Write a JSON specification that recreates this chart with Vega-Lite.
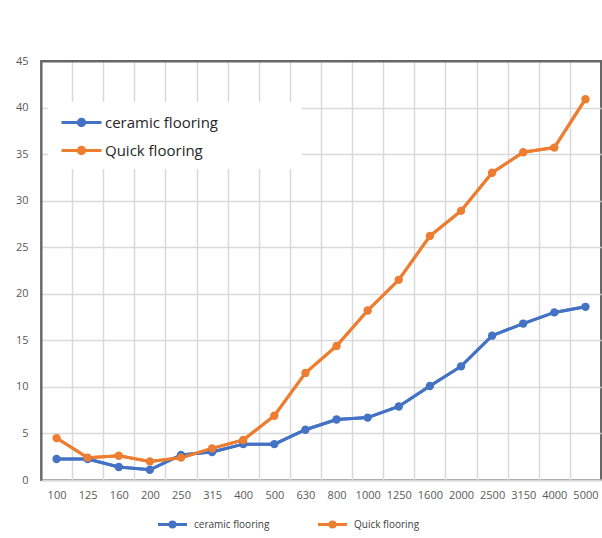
{
  "$schema": "https://vega.github.io/schema/vega-lite/v6.json",
  "width": 560,
  "height": 419,
  "autosize": "none",
  "padding": {"left": 41, "top": 61, "right": 1, "bottom": 58},
  "background": "white",
  "view": {"stroke": "#666666", "strokeWidth": 2},
  "config": {
    "font": "Open Sans"
  },
  "data": {
    "values": [
      {"freq": "100", "series": "ceramic flooring", "value": 2.25},
      {"freq": "125", "series": "ceramic flooring", "value": 2.25},
      {"freq": "160", "series": "ceramic flooring", "value": 1.4},
      {"freq": "200", "series": "ceramic flooring", "value": 1.1},
      {"freq": "250", "series": "ceramic flooring", "value": 2.7},
      {"freq": "315", "series": "ceramic flooring", "value": 3.0},
      {"freq": "400", "series": "ceramic flooring", "value": 3.85},
      {"freq": "500", "series": "ceramic flooring", "value": 3.85},
      {"freq": "630", "series": "ceramic flooring", "value": 5.4},
      {"freq": "800", "series": "ceramic flooring", "value": 6.5},
      {"freq": "1000", "series": "ceramic flooring", "value": 6.7},
      {"freq": "1250", "series": "ceramic flooring", "value": 7.9},
      {"freq": "1600", "series": "ceramic flooring", "value": 10.1},
      {"freq": "2000", "series": "ceramic flooring", "value": 12.2},
      {"freq": "2500", "series": "ceramic flooring", "value": 15.5},
      {"freq": "3150", "series": "ceramic flooring", "value": 16.8},
      {"freq": "4000", "series": "ceramic flooring", "value": 18.0},
      {"freq": "5000", "series": "ceramic flooring", "value": 18.6},
      {"freq": "100", "series": "Quick flooring", "value": 4.5},
      {"freq": "125", "series": "Quick flooring", "value": 2.4},
      {"freq": "160", "series": "Quick flooring", "value": 2.6},
      {"freq": "200", "series": "Quick flooring", "value": 2.0},
      {"freq": "250", "series": "Quick flooring", "value": 2.4},
      {"freq": "315", "series": "Quick flooring", "value": 3.4},
      {"freq": "400", "series": "Quick flooring", "value": 4.3},
      {"freq": "500", "series": "Quick flooring", "value": 6.9},
      {"freq": "630", "series": "Quick flooring", "value": 11.5},
      {"freq": "800", "series": "Quick flooring", "value": 14.4},
      {"freq": "1000", "series": "Quick flooring", "value": 18.2},
      {"freq": "1250", "series": "Quick flooring", "value": 21.5},
      {"freq": "1600", "series": "Quick flooring", "value": 26.2},
      {"freq": "2000", "series": "Quick flooring", "value": 28.9},
      {"freq": "2500", "series": "Quick flooring", "value": 33.0},
      {"freq": "3150", "series": "Quick flooring", "value": 35.2},
      {"freq": "4000", "series": "Quick flooring", "value": 35.7},
      {"freq": "5000", "series": "Quick flooring", "value": 40.9}
    ]
  },
  "encoding": {
    "x": {
      "field": "freq",
      "type": "ordinal",
      "sort": null,
      "bandPosition": 0.5,
      "scale": {"type": "band", "paddingInner": 0, "paddingOuter": 0},
      "axis": {
        "title": null,
        "tickBand": "extent",
        "ticks": false,
        "labelAngle": 0,
        "labelColor": "#595959",
        "labelFontSize": 11,
        "labelPadding": 9,
        "grid": true,
        "gridColor": {"condition": {"test": "datum.value === '5000'", "value": "#666666"}, "value": "#d9d9d9"},
        "gridWidth": {"condition": {"test": "datum.value === '5000'", "value": 2}, "value": 1.5},
        "domainColor": "#d9d9d9",
        "domainWidth": 2
      }
    },
    "y": {
      "field": "value",
      "type": "quantitative",
      "scale": {"domain": [0, 45], "nice": false},
      "axis": {
        "title": null,
        "values": [0, 5, 10, 15, 20, 25, 30, 35, 40, 45],
        "ticks": false,
        "domain": true,
        "domainColor": "#666666",
        "domainWidth": 2,
        "labelColor": "#595959",
        "labelFontSize": 11,
        "labelPadding": 13,
        "gridColor": {"condition": {"test": "datum.value === 45", "value": "#666666"}, "value": "#d9d9d9"},
        "gridWidth": {"condition": {"test": "datum.value === 45", "value": 2}, "value": 1.5}
      }
    },
    "color": {
      "field": "series",
      "type": "nominal",
      "sort": ["ceramic flooring", "Quick flooring"],
      "scale": {"domain": ["ceramic flooring", "Quick flooring"], "range": ["#4472C4", "#ED7D31"]}
    }
  },
  "layer": [
    {
      "mark": {"type": "line", "strokeWidth": 3},
      "encoding": {
        "color": {
          "field": "series",
          "type": "nominal",
          "sort": ["ceramic flooring", "Quick flooring"],
          "scale": {"domain": ["ceramic flooring", "Quick flooring"], "range": ["#4472C4", "#ED7D31"]},
          "legend": {
            "title": null,
            "orient": "none",
            "direction": "horizontal",
            "legendX": 116,
            "legendY": 457,
            "padding": 0,
            "symbolType": "M-2.9,0L2.9,0M-0.5,0A0.5,0.5,0,1,1,0.5,0A0.5,0.5,0,1,1,-0.5,0Z",
            "symbolSize": 100,
            "symbolOffset": 9,
            "symbolStrokeWidth": 3,
            "labelFontSize": 10,
            "labelColor": "#404040",
            "labelOffset": 15,
            "columnPadding": 42,
            "encode": {
              "symbols": {"update": {"fill": {"scale": "color", "field": "value"}, "fillOpacity": {"value": 1}, "stroke": {"scale": "color", "field": "value"}, "strokeWidth": {"value": 3}, "strokeOpacity": {"value": 1}, "opacity": {"value": 1}}}
            }
          }
        }
      }
    },
    {
      "mark": {"type": "line", "strokeWidth": 3},
      "encoding": {
        "color": {
          "field": "series",
          "type": "nominal",
          "sort": ["ceramic flooring", "Quick flooring"],
          "scale": {"domain": ["ceramic flooring", "Quick flooring"], "range": ["#4472C4", "#ED7D31"]},
          "legend": {
            "title": null,
            "orient": "none",
            "legendX": 7,
            "legendY": 41,
            "padding": 9,
            "fillColor": "white",
            "strokeColor": null,
            "symbolType": "M-2,0L2,0M-0.32,0A0.32,0.32,0,1,1,0.32,0A0.32,0.32,0,1,1,-0.32,0Z",
            "symbolSize": 400,
            "symbolOffset": 13,
            "symbolStrokeWidth": 3,
            "labelFontSize": 15,
            "labelColor": "#262626",
            "labelOffset": 12,
            "rowPadding": 7,
            "labelLimit": 400,
            "labelExpr": "datum.label + '\u00a0\u00a0\u00a0\u00a0\u00a0\u00a0\u00a0\u00a0\u00a0\u00a0\u00a0\u00a0\u00a0\u00a0\u00a0\u00a0\u00a0\u00a0\u00a0\u200b'",
            "encode": {
              "symbols": {"update": {"fill": {"scale": "color", "field": "value"}, "fillOpacity": {"value": 1}, "stroke": {"scale": "color", "field": "value"}, "strokeWidth": {"value": 3}, "strokeOpacity": {"value": 1}, "opacity": {"value": 1}}}
            }
          }
        }
      }
    },
    {
      "mark": {"type": "circle", "size": 70, "opacity": 1},
      "encoding": {
        "color": {
          "field": "series",
          "type": "nominal",
          "sort": ["ceramic flooring", "Quick flooring"],
          "scale": {"domain": ["ceramic flooring", "Quick flooring"], "range": ["#4472C4", "#ED7D31"]},
          "legend": null
        }
      }
    }
  ],
  "resolve": {"legend": {"color": "independent"}}
}
